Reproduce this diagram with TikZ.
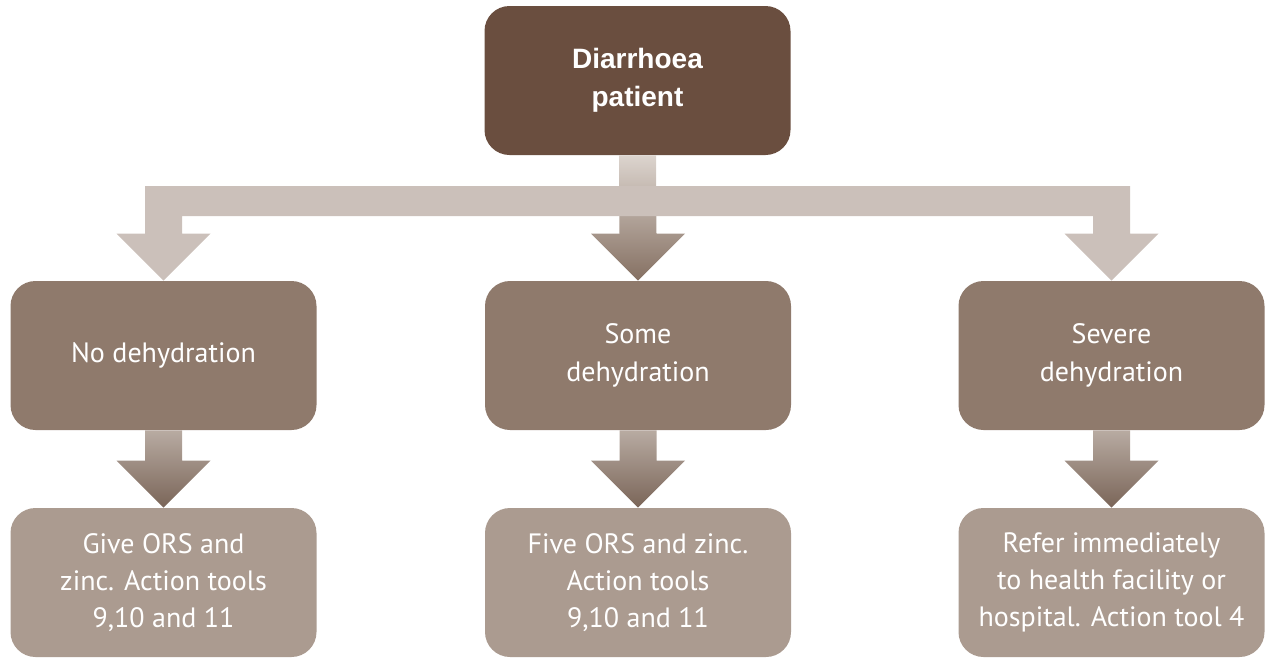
\documentclass[tikz,border=0pt]{standalone}
\usepackage{fontspec}
\setmainfont{PT Sans}
\newfontfamily\headfont{Liberation Sans}
\usetikzlibrary{calc}

\definecolor{patientbrown}{HTML}{6A4E3F}
\definecolor{levelbrown}{HTML}{8F7A6C}
\definecolor{actionbrown}{HTML}{AB9B90}
\definecolor{barbeige}{HTML}{CBC0BA}
\definecolor{stemlight}{HTML}{DCD4CE}
\definecolor{stemdark}{HTML}{857062}
\definecolor{lowlight}{HTML}{B8ABA2}
\definecolor{lowdark}{HTML}{7A6558}

\tikzset{
	box/.style={shape=rectangle,rounded corners=12.5pt,minimum width=153pt,minimum height=74.5pt,inner sep=0pt,text=white,align=center},
	patientbox/.style={box,fill=patientbrown,font=\headfont\bfseries\fontsize{14}{19}\selectfont},
	levelbox/.style={box,fill=levelbrown,font=\fontsize{14}{19}\selectfont},
	actionbox/.style={box,fill=actionbrown,font=\fontsize{14}{18.5}\selectfont}
}

% block arrow from a point straight down to a tip
\newcommand{\blockarrow}[2]{($(#1)+(-18.5,0)$) -- ($(#2)+(-18.5,-47)$) -- ($(#2)+(-47,-47)$) -- (#2) -- ($(#2)+(47,-47)$) -- ($(#2)+(18.5,-47)$) -- ($(#1)+(18.5,0)$) -- cycle}

\begin{document}
\begin{tikzpicture}[x=0.5pt,y=-0.5pt]
	\useasboundingbox (0,0) rectangle (1266,659);

	\node[patientbox] (patient) at (637.5, 80.5)  {Diarrhoea\\patient};

	\node[levelbox] (none)   at (163.5, 355.5)  {No dehydration};
	\node[levelbox] (some)   at (638, 355.5)    {Some\\dehydration};
	\node[levelbox] (severe) at (1111.5, 355.5) {Severe\\dehydration};

	\node[actionbox] (give)  at (163.5, 582.5)  {Give ORS and\\zinc. Action tools\\9,10 and 11};
	\node[actionbox] (five)  at (638, 582.5)    {Five ORS and zinc.\\Action tools\\9,10 and 11};
	\node[actionbox] (refer) at (1111.5, 582.5) {Refer immediately\\to health facility or\\hospital. Action tool 4};

	\coordinate (bar) at (638, 201);

	\shade[top color=stemlight,bottom color=stemdark] \blockarrow{patient.south}{some.north};
	\fill[barbeige] ($(none.north |- bar)+(-18.5,-15)$) -- ($(severe.north |- bar)+(18.5,-15)$)
		-- ($(severe.north)+(18.5,-47)$) -- ($(severe.north)+(47,-47)$) -- (severe.north)
		-- ($(severe.north)+(-47,-47)$) -- ($(severe.north)+(-18.5,-47)$)
		-- ($(severe.north |- bar)+(-18.5,15)$) -- ($(none.north |- bar)+(18.5,15)$)
		-- ($(none.north)+(18.5,-47)$) -- ($(none.north)+(47,-47)$) -- (none.north)
		-- ($(none.north)+(-47,-47)$) -- ($(none.north)+(-18.5,-47)$) -- cycle;

	\shade[top color=lowlight,bottom color=lowdark] \blockarrow{none.south}{give.north};
	\shade[top color=lowlight,bottom color=lowdark] \blockarrow{some.south}{five.north};
	\shade[top color=lowlight,bottom color=lowdark] \blockarrow{severe.south}{refer.north};
\end{tikzpicture}
\end{document}
